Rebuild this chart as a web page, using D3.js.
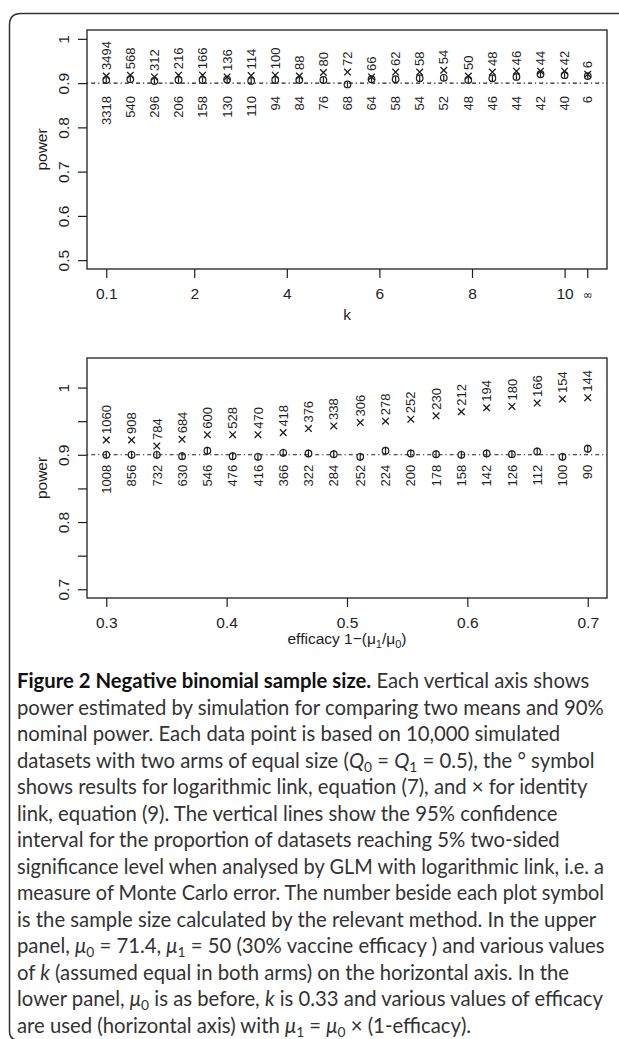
<!DOCTYPE html>
<html>
<head>
<meta charset="utf-8">
<script src="https://d3js.org/d3.v7.min.js"></script>
<style>
  body { margin: 0; background: #fff; }
  svg { display: block; }
</style>
</head>
<body>
<svg id="drawing_region"></svg>
<script>
// upper panel: k values (last one is k = infinity, drawn at 10.5)
const top_k = [0.1, 0.62, 1.14, 1.66, 2.18, 2.71, 3.23, 3.75, 4.27, 4.79, 5.31,
               5.83, 6.35, 6.87, 7.39, 7.92, 8.44, 8.96, 9.48, 10, 10.5];
const top_power_log = [0.907, 0.909, 0.905, 0.907, 0.907, 0.908, 0.905, 0.907, 0.907, 0.907, 0.897,
                       0.909, 0.909, 0.911, 0.912, 0.907, 0.911, 0.914, 0.920, 0.918, 0.916];
const top_power_id = [0.916, 0.918, 0.914, 0.918, 0.918, 0.914, 0.917, 0.918, 0.916, 0.924, 0.925,
                      0.914, 0.925, 0.925, 0.929, 0.916, 0.925, 0.927, 0.927, 0.927, 0.920];
const top_n_log = [3318, 540, 296, 206, 158, 130, 110, 94, 84, 76, 68,
                   64, 58, 54, 52, 48, 46, 44, 42, 40, 6];
const top_n_id = [3494, 568, 312, 216, 166, 136, 114, 100, 88, 80, 72,
                  66, 62, 58, 54, 50, 48, 46, 44, 42, 6];
const top_xticks = [0.1, 2, 4, 6, 8, 10];
const top_yticks = [0.5, 0.6, 0.7, 0.8, 0.9, 1];

// lower panel: efficacy values, k = 0.33
const bot_eff = [0.3, 0.321, 0.342, 0.363, 0.384, 0.405, 0.426, 0.447, 0.468, 0.489,
                 0.511, 0.532, 0.553, 0.574, 0.595, 0.616, 0.637, 0.658, 0.679, 0.7];
const bot_power_log = [0.900, 0.900, 0.900, 0.898, 0.906, 0.898, 0.897, 0.903, 0.902, 0.901,
                       0.897, 0.906, 0.902, 0.901, 0.900, 0.902, 0.901, 0.905, 0.897, 0.909];
const bot_power_id = [0.922, 0.922, 0.913, 0.923, 0.930, 0.930, 0.930, 0.933, 0.939, 0.943,
                      0.948, 0.950, 0.953, 0.958, 0.964, 0.970, 0.972, 0.977, 0.983, 0.985];
const bot_n_log = [1008, 856, 732, 630, 546, 476, 416, 366, 322, 284,
                   252, 224, 200, 178, 158, 142, 126, 112, 100, 90];
const bot_n_id = [1060, 908, 784, 684, 600, 528, 470, 418, 376, 338,
                  306, 278, 252, 230, 212, 194, 180, 166, 154, 144];
const bot_xticks = [0.3, 0.4, 0.5, 0.6, 0.7];
const bot_yticks = [0.7, 0.75, 0.8, 0.85, 0.9, 0.95, 1];

const nominal_power = 0.9;
const ci_half = 0.006;   // 95% CI half width for 10,000 simulations

const caption_lines = [
  [['b', 'Figure 2 Negative binomial sample size.'], ['n', ' Each vertical axis shows']],
  [['n', 'power estimated by simulation for comparing two means and 90%']],
  [['n', 'nominal power. Each data point is based on 10,000 simulated']],
  [['n', 'datasets with two arms of equal size ('], ['i', 'Q'], ['sub', '0'], ['n', ' = '], ['i', 'Q'], ['sub', '1'], ['n', ' = 0.5), the ° symbol']],
  [['n', 'shows results for logarithmic link, equation (7), and × for identity']],
  [['n', 'link, equation (9). The vertical lines show the 95% confidence']],
  [['n', 'interval for the proportion of datasets reaching 5% two-sided']],
  [['n', 'significance level when analysed by GLM with logarithmic link, i.e. a']],
  [['n', 'measure of Monte Carlo error. The number beside each plot symbol']],
  [['n', 'is the sample size calculated by the relevant method. In the upper']],
  [['n', 'panel, '], ['i', 'μ'], ['sub', '0'], ['n', ' = 71.4, '], ['i', 'μ'], ['sub', '1'], ['n', ' = 50 (30% vaccine efficacy ) and various values']],
  [['n', 'of '], ['i', 'k'], ['n', ' (assumed equal in both arms) on the horizontal axis. In the']],
  [['n', 'lower panel, '], ['i', 'μ'], ['sub', '0'], ['n', ' is as before, '], ['i', 'k'], ['n', ' is 0.33 and various values of efficacy']],
  [['n', 'are used (horizontal axis) with '], ['i', 'μ'], ['sub', '1'], ['n', ' = '], ['i', 'μ'], ['sub', '0'], ['n', ' × (1-efficacy).']]
];

const plot_font = '"Liberation Sans", Arial, sans-serif';
const ink = '#1e1e1e';

const svg = d3.select('#drawing_region')
    .attr('width', 619)
    .attr('height', 1039);

// rounded frame round the figure
svg.append('path')
    .attr('d', 'M 620 13.5 H 21 Q 9.5 13.5 9.5 25 V 1031 Q 9.5 1040 18 1040')
    .attr('fill', 'none')
    .attr('stroke', '#333')
    .attr('stroke-width', 1.5);

class PowerPanel {

    constructor( config, data ) {
        this.config = config;
        this.data = data;
        this.init();
    }

    init() {
        let self = this;
        const c = self.config;

        self.chart = svg.append('g')
            .attr('transform', `translate(${c.left}, ${c.top})`);

        self.xscale = d3.scaleLinear()
            .domain( c.xdomain )
            .range( [0, c.width] );

        self.yscale = d3.scaleLinear()
            .domain( c.ydomain )
            .range( [c.height, 0] );

        self.xaxis = d3.axisBottom( self.xscale )
            .tickValues( c.xticks )
            .tickFormat( d => String(d) )
            .tickSize(9)
            .tickSizeOuter(0);

        self.yaxis = d3.axisLeft( self.yscale )
            .tickValues( c.yticks )
            .tickFormat( c.yformat )
            .tickSize(9)
            .tickSizeOuter(0);
    }

    render() {
        let self = this;
        const c = self.config;

        const xg = self.chart.append('g')
            .attr('transform', `translate(0, ${c.height})`)
            .call( self.xaxis );
        xg.select('.domain').remove();
        xg.selectAll('line').attr('stroke', ink).attr('stroke-width', 1.2);
        xg.selectAll('text')
            .attr('y', 30)
            .attr('dy', null)
            .attr('fill', ink)
            .attr('font-size', 15.5)
            .attr('font-family', plot_font);

        const yg = self.chart.append('g')
            .call( self.yaxis );
        yg.select('.domain').remove();
        yg.selectAll('line').attr('stroke', ink).attr('stroke-width', 1.2);
        yg.selectAll('text')
            .attr('x', null)
            .attr('dy', null)
            .attr('transform', 'translate(-18, 0) rotate(-90)')
            .attr('text-anchor', 'middle')
            .attr('fill', ink)
            .attr('font-size', 15.5)
            .attr('font-family', plot_font);

        // box
        self.chart.append('rect')
            .attr('x', 0).attr('y', 0)
            .attr('width', c.width).attr('height', c.height)
            .attr('fill', 'none')
            .attr('stroke', ink)
            .attr('stroke-width', 1.3);

        // nominal power line
        self.chart.append('line')
            .attr('x1', 0).attr('x2', c.width)
            .attr('y1', self.yscale(nominal_power))
            .attr('y2', self.yscale(nominal_power))
            .attr('stroke', ink)
            .attr('stroke-width', 1.1)
            .attr('stroke-dasharray', '1.2,3,4,3');

        self.chart.append('text')
            .attr('transform', `translate(-40, ${c.height / 2}) rotate(-90)`)
            .attr('text-anchor', 'middle')
            .attr('fill', ink)
            .attr('font-size', 15.5)
            .attr('font-family', plot_font)
            .text('power');

        const pts = self.chart.append('g');
        const d = self.data;

        // CI lines through the log-link points
        pts.selectAll('line.ci')
            .data(d)
            .enter()
            .append('line')
            .attr('class', 'ci')
            .attr('x1', p => self.xscale(p.x))
            .attr('x2', p => self.xscale(p.x))
            .attr('y1', p => self.yscale(p.plog - ci_half))
            .attr('y2', p => self.yscale(p.plog + ci_half))
            .attr('stroke', ink)
            .attr('stroke-width', 1.2);

        pts.selectAll('circle')
            .data(d)
            .enter()
            .append('circle')
            .attr('cx', p => self.xscale(p.x))
            .attr('cy', p => self.yscale(p.plog))
            .attr('r', 3.3)
            .attr('fill', 'none')
            .attr('stroke', ink)
            .attr('stroke-width', 1.2);

        const s = 3.3;
        pts.selectAll('path.cross')
            .data(d)
            .enter()
            .append('path')
            .attr('class', 'cross')
            .attr('d', p => {
                const x = self.xscale(p.x), y = self.yscale(p.pid);
                return `M${x - s},${y - s}L${x + s},${y + s}M${x - s},${y + s}L${x + s},${y - s}`;
            })
            .attr('stroke', ink)
            .attr('stroke-width', 1.3);

        // sample size labels
        pts.selectAll('text.nlog')
            .data(d)
            .enter()
            .append('text')
            .attr('class', 'nlog')
            .attr('transform', p => `translate(${self.xscale(p.x)}, ${self.yscale(nominal_power) + c.below}) rotate(-90)`)
            .attr('dy', '0.36em')
            .attr('text-anchor', 'end')
            .attr('fill', ink)
            .attr('font-size', 13)
            .attr('font-family', plot_font)
            .text(p => p.nlog);

        pts.selectAll('text.nid')
            .data(d)
            .enter()
            .append('text')
            .attr('class', 'nid')
            .attr('transform', p => `translate(${self.xscale(p.x)}, ${self.yscale(p.pid) - 6}) rotate(-90)`)
            .attr('dy', '0.36em')
            .attr('text-anchor', 'start')
            .attr('fill', ink)
            .attr('font-size', 13)
            .attr('font-family', plot_font)
            .text(p => p.nid);
    }
}

// upper panel
const top_data = top_k.map( (k, i) => ({
    x: k, plog: top_power_log[i], pid: top_power_id[i], nlog: top_n_log[i], nid: top_n_id[i]
}));
const top_panel = new PowerPanel({
    left: 87, top: 30, width: 520, height: 239,
    xdomain: [-0.316, 10.916], ydomain: [0.48, 1.02],
    xticks: top_xticks, yticks: top_yticks,
    yformat: v => String(v),
    below: 13
}, top_data);
top_panel.render();

// infinity tick
top_panel.chart.append('line')
    .attr('x1', top_panel.xscale(10.5)).attr('x2', top_panel.xscale(10.5))
    .attr('y1', 239).attr('y2', 248)
    .attr('stroke', ink)
    .attr('stroke-width', 1.2);
top_panel.chart.append('text')
    .attr('x', top_panel.xscale(10.5))
    .attr('y', 269)
    .attr('text-anchor', 'middle')
    .attr('fill', ink)
    .attr('font-size', 12)
    .attr('font-family', '"DejaVu Sans", sans-serif')
    .text('∞');
top_panel.chart.append('text')
    .attr('x', 260)
    .attr('y', 290)
    .attr('text-anchor', 'middle')
    .attr('fill', ink)
    .attr('font-size', 15.5)
    .attr('font-family', plot_font)
    .text('k');

// lower panel
const bot_data = bot_eff.map( (e, i) => ({
    x: e, plog: bot_power_log[i], pid: bot_power_id[i], nlog: bot_n_log[i], nid: bot_n_id[i]
}));
const bot_panel = new PowerPanel({
    left: 87, top: 358, width: 520, height: 240,
    xdomain: [0.284, 0.716], ydomain: [0.687, 1.044],
    xticks: bot_xticks, yticks: bot_yticks,
    yformat: v => (Math.round(v * 100) % 10 === 0 ? String(v) : ''),
    below: 10
}, bot_data);
bot_panel.render();

const xlab = bot_panel.chart.append('text')
    .attr('x', 260)
    .attr('y', 286)
    .attr('text-anchor', 'middle')
    .attr('fill', ink)
    .attr('font-size', 15.5)
    .attr('font-family', plot_font);
xlab.append('tspan').text('efficacy 1\u2212(\u03bc');
xlab.append('tspan').attr('font-size', 11).attr('dy', 4).text('1');
xlab.append('tspan').attr('dy', -4).text('/\u03bc');
xlab.append('tspan').attr('font-size', 11).attr('dy', 4).text('0');
xlab.append('tspan').attr('dy', -4).text(')');

// caption
const cap_font = 'Lato, "Open Sans", sans-serif';
const probe = svg.append('text')
    .attr('font-family', cap_font)
    .attr('font-size', 18)
    .text(caption_lines[1][0][1]);
const cap_size = 18 * 587 / probe.node().getComputedTextLength();
probe.remove();

const cap = svg.append('g')
    .attr('font-family', cap_font)
    .attr('font-size', cap_size);

caption_lines.forEach( (line, li) => {
    const t = cap.append('text')
        .attr('x', 17)
        .attr('y', 688 + li * 26.5)
        .attr('fill', '#333');
    let shifted = false;
    line.forEach( ([style, str]) => {
        const ts = t.append('tspan').text(str);
        if (style === 'sub') {
            ts.attr('font-size', cap_size * 0.68).attr('dy', 4);
            shifted = true;
        } else {
            if (shifted) { ts.attr('dy', -4); shifted = false; }
            if (style === 'b') ts.attr('font-weight', 700).attr('fill', '#111');
            if (style === 'i') ts.attr('font-style', 'italic');
        }
    });
    // keep long lines inside the frame
    if (t.node().getComputedTextLength() > 589) {
        t.attr('textLength', 587).attr('lengthAdjust', 'spacingAndGlyphs');
    }
});
</script>
</body>
</html>
